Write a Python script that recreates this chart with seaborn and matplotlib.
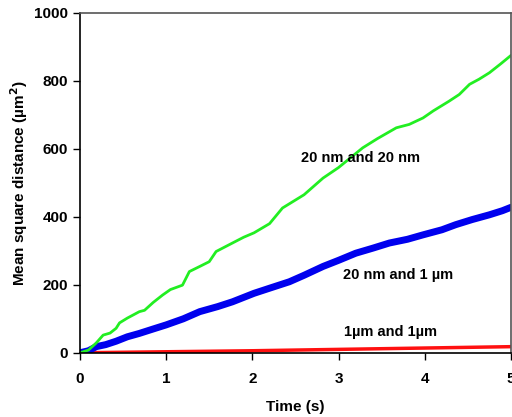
import matplotlib
matplotlib.use("Agg")
import matplotlib.pyplot as plt
import seaborn as sns
import pandas as pd

# green curve: 20 nm and 20 nm
t_green = [0, 0.1, 0.19, 0.27, 0.35, 0.42, 0.46, 0.55, 0.69, 0.75, 0.85, 0.96,
           1.05, 1.19, 1.27, 1.39, 1.5, 1.58, 1.77, 1.9, 2.02, 2.2, 2.35, 2.6,
           2.82, 3.0, 3.28, 3.45, 3.67, 3.82, 3.98, 4.1, 4.28, 4.4, 4.52, 4.63,
           4.75, 4.88, 5.0]
v_green = [0, 8, 29, 52, 58, 72, 88, 102, 121, 125, 148, 170,
           186, 199, 239, 254, 268, 298, 323, 340, 353, 380, 426, 465,
           514, 545, 603, 630, 662, 672, 691, 712, 740, 760, 790, 805,
           824, 850, 875]

# blue curve: 20 nm and 1 um
t_blue = [0, 0.1, 0.19, 0.3, 0.42, 0.55, 0.69, 0.85, 1.0, 1.2, 1.39, 1.6,
          1.77, 2.02, 2.2, 2.43, 2.6, 2.82, 3.0, 3.2, 3.4, 3.59, 3.8, 3.98,
          4.2, 4.36, 4.55, 4.75, 4.9, 5.0]
v_blue = [0, 6, 18, 24, 34, 47, 57, 70, 82, 100, 121, 136,
          150, 175, 190, 209, 228, 254, 272, 293, 308, 323, 334, 347,
          362, 377, 392, 406, 418, 428]

# red curve: 1 um and 1 um
t_red = [0, 1, 2, 3, 4, 5]
v_red = [0, 3, 6, 10, 14, 18]

labels = ["20 nm and 20 nm", "20 nm and 1 µm", "1µm and 1µm"]
label_x = [3.25, 3.69, 3.6]
label_y = [574, 229, 62]

df = pd.concat([
    pd.DataFrame({"t": t_green, "v": v_green, "s": "green"}),
    pd.DataFrame({"t": t_blue, "v": v_blue, "s": "blue"}),
    pd.DataFrame({"t": t_red, "v": v_red, "s": "red"}),
])

sns.set_style("ticks", {"text.color": "black", "axes.labelcolor": "black",
                        "xtick.color": "black", "ytick.color": "black"})
plt.rcParams['font.family'] = ['Liberation Sans', 'DejaVu Sans']
plt.rcParams['font.weight'] = 'bold'

fig = plt.figure(figsize=(5.12, 4.17), dpi=100)
ax = fig.add_axes([0.156, 0.154, 0.842, 0.815])

widths = {"green": 2.0, "blue": 5.0, "red": 2.5}
colors = {"green": "#22ee22", "blue": "#0000ee", "red": "#ff1010"}
for s in ["red", "blue", "green"]:
    sub = df[df["s"] == s]
    sns.lineplot(data=sub, x="t", y="v", ax=ax, color=colors[s],
                 linewidth=widths[s], estimator=None, sort=False)

for txt, x, y in zip(labels, label_x, label_y):
    ax.text(x, y, txt, ha="center", va="center", fontsize=10.5,
            fontweight="bold", color="black")

ax.set_xlim(0, 5)
ax.set_ylim(0, 1000)
ax.set_xticks([0, 1, 2, 3, 4, 5])
ax.set_yticks([0, 200, 400, 600, 800, 1000])
ax.tick_params(axis="both", labelsize=11, length=5, width=1, color="black",
               labelcolor="black")
ax.tick_params(axis="x", pad=9)
for lab in ax.get_xticklabels() + ax.get_yticklabels():
    lab.set_fontweight("bold")
ax.set_xlabel("Time (s)", fontsize=11, fontweight="bold", labelpad=10, color="black")
ax.set_ylabel("Mean square distance (µm$^{\\mathbf{2}}$)", fontsize=11,
              fontweight="bold", labelpad=3, color="black")

ax.spines["left"].set_color("black")
ax.spines["bottom"].set_color("black")
ax.spines["top"].set_color("#555555")
ax.spines["right"].set_color("#555555")
for sp in ax.spines.values():
    sp.set_linewidth(1.2)

fig.savefig("out.png", dpi=100)
